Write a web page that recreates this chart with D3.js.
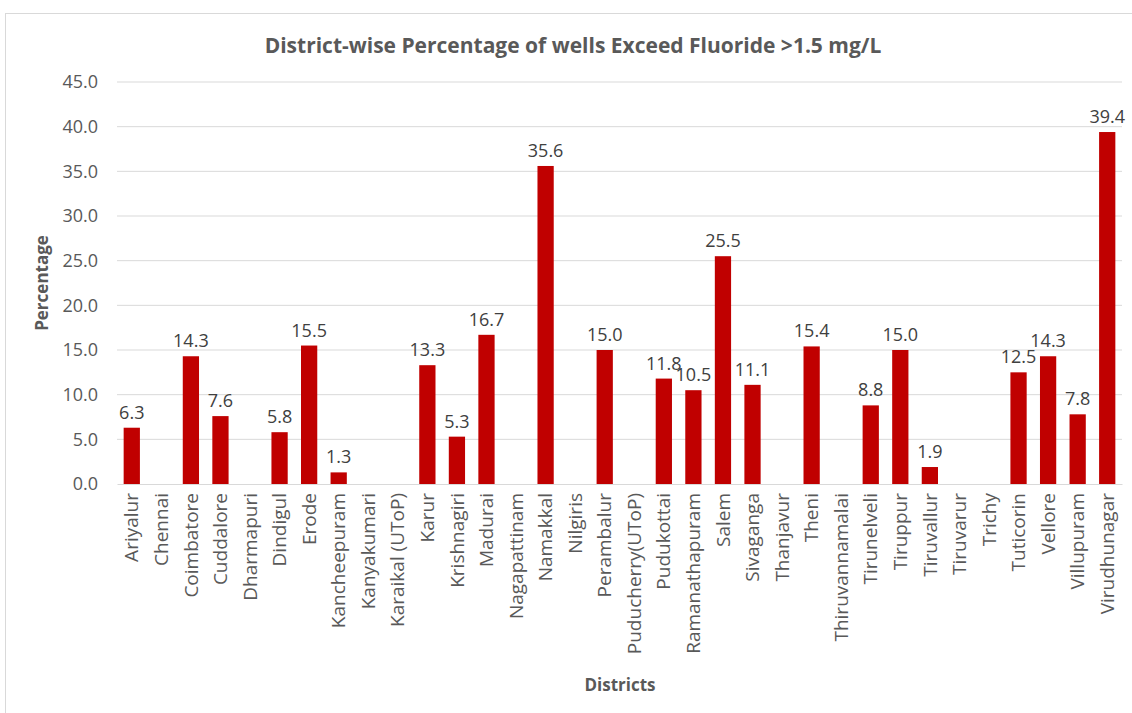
<!DOCTYPE html>
<html><head><meta charset="utf-8">
<script src="https://cdn.jsdelivr.net/npm/d3@7"></script>
<style>body{margin:0;background:#fff}svg{display:block}text{font-family:"Open Sans",sans-serif}</style>
</head><body>
<svg id="c" width="1132" height="713"></svg>
<script>
const districts = ["Ariyalur","Chennai","Coimbatore","Cuddalore","Dharmapuri","Dindigul","Erode","Kancheepuram","Kanyakumari","Karaikal (UToP)","Karur","Krishnagiri","Madurai","Nagapattinam","Namakkal","Nilgiris","Perambalur","Puducherry(UToP)","Pudukottai","Ramanathapuram","Salem","Sivaganga","Thanjavur","Theni","Thiruvannamalai","Tirunelveli","Tiruppur","Tiruvallur","Tiruvarur","Trichy","Tuticorin","Vellore","Villupuram","Virudhunagar"];
const percentages = [6.3,null,14.3,7.6,null,5.8,15.5,1.3,null,null,13.3,5.3,16.7,null,35.6,null,15.0,null,11.8,10.5,25.5,11.1,null,15.4,null,8.8,15.0,1.9,null,null,12.5,14.3,7.8,39.4];
const yTicks = [0,5,10,15,20,25,30,35,40,45];
const title = "District-wise Percentage of wells Exceed Fluoride >1.5 mg/L";

const svg = d3.select("#c");
svg.append("rect").attr("x",5.5).attr("y",13.5).attr("width",1140).attr("height",710)
  .attr("fill","#fff").attr("stroke","#d9d9d9");

const x = d3.scaleBand().domain(districts).range([117,1122]).paddingInner(0.45).paddingOuter(0.225);
const y = d3.scaleLinear().domain([0,45]).range([484,82]);

svg.append("g").selectAll("line").data(yTicks.slice(1)).join("line")
  .attr("x1",117).attr("x2",1122).attr("y1",d=>y(d)).attr("y2",d=>y(d))
  .attr("stroke","#d9d9d9").attr("stroke-width",1);

const ya = svg.append("g").attr("transform","translate(117,0)")
  .call(d3.axisLeft(y).tickValues(yTicks).tickFormat(d3.format(".1f")).tickSize(0).tickPadding(19));
ya.select(".domain").remove();
ya.selectAll("text").attr("fill","#595959").style("font-size","18px");

const data = districts.map((d,i)=>({d, v: percentages[i]})).filter(o=>o.v!=null);
svg.append("g").selectAll("rect").data(data).join("rect")
  .attr("x",o=>x(o.d)).attr("width",x.bandwidth())
  .attr("y",o=>y(o.v)).attr("height",o=>y(0)-y(o.v)).attr("fill","#C00000");

svg.append("g").selectAll("text").data(data).join("text")
  .attr("x",o=>x(o.d)+x.bandwidth()/2).attr("y",o=>y(o.v)-9)
  .attr("text-anchor","middle").attr("fill","#404040").style("font-size","18px")
  .text(o=>o.v.toFixed(1));

const xa = svg.append("g").attr("transform","translate(0,484)")
  .call(d3.axisBottom(x).tickSize(0).tickPadding(0));
xa.select(".domain").attr("stroke","#d9d9d9");
xa.selectAll("text").attr("fill","#595959").style("font-size","19px")
  .attr("text-anchor","end").attr("dy","0.35em")
  .attr("transform","translate(0,9) rotate(-90)").attr("x",0).attr("y",0);

svg.append("text").attr("x",573).attr("y",53).attr("text-anchor","middle")
  .attr("fill","#595959").style("font-size","21px").style("font-weight","bold").text(title);
svg.append("text").attr("x",620).attr("y",691).attr("text-anchor","middle")
  .attr("fill","#595959").style("font-size","17px").style("font-weight","bold").text("Districts");
svg.append("text").attr("transform","translate(48,283) rotate(-90)").attr("text-anchor","middle")
  .attr("fill","#595959").style("font-size","17px").style("font-weight","bold").text("Percentage");
</script>
</body></html>
